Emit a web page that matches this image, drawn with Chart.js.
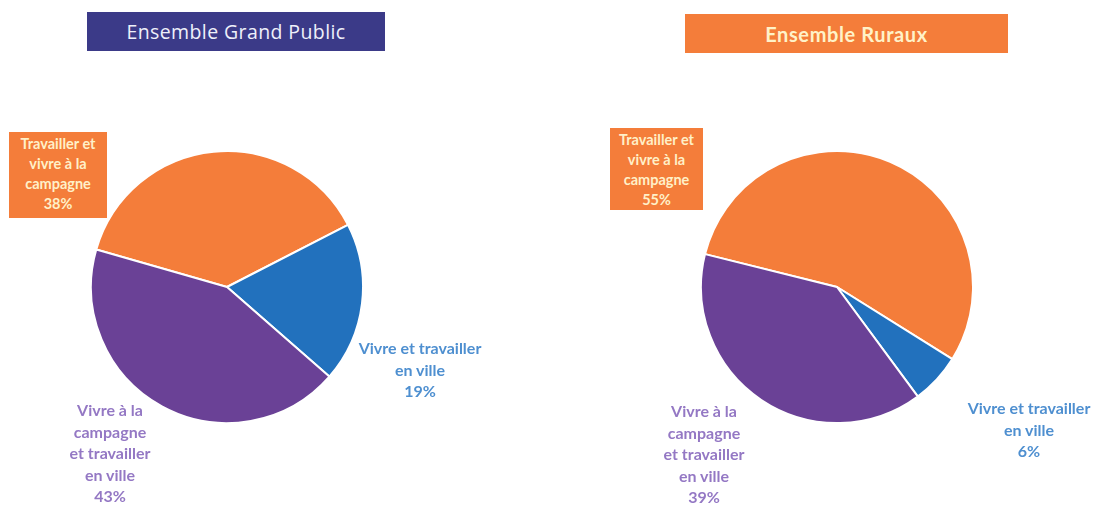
<!DOCTYPE html>
<html>
<head>
<meta charset="utf-8">
<script src="https://cdn.jsdelivr.net/npm/chart.js@4"></script>
<style>
  html,body{margin:0;padding:0;background:#fff;width:1096px;height:506px;overflow:hidden;}
  body{position:relative;font-family:Lato,"Open Sans",sans-serif;}
  canvas{position:absolute;}
  .title{position:absolute;display:flex;align-items:center;justify-content:center;box-sizing:border-box;}
  .lbl{position:absolute;text-align:center;font-weight:bold;font-size:16px;line-height:21.5px;white-space:nowrap;transform:translateX(-50%);}
  .box{position:absolute;background:#F47D3A;color:#FFF0C8;text-align:center;font-weight:bold;font-size:14.5px;line-height:20px;box-sizing:border-box;padding-top:2px;white-space:nowrap;}
</style>
</head>
<body>
<div class="title" id="t1" style="left:87px;top:12px;width:298px;height:39px;background:#3B3A88;color:#EEF0FA;font-family:'Open Sans',sans-serif;font-size:19.5px;letter-spacing:0.4px;"></div>
<div class="title" id="t2" style="left:685px;top:14px;width:323px;height:39px;background:#F47D3A;color:#FFF2C8;font-weight:bold;font-size:20px;letter-spacing:0.6px;"></div>

<canvas id="c1" width="274" height="274" style="left:90px;top:150px;"></canvas>
<canvas id="c2" width="274" height="274" style="left:700px;top:150px;"></canvas>

<div class="box" id="b1" style="left:9px;top:132px;width:98px;height:86px;"></div>
<div class="box" id="b2" style="left:610px;top:128px;width:93px;height:82px;"></div>
<div class="lbl" id="blue1" style="left:420px;top:337px;color:#4E8FD0;"></div>
<div class="lbl" id="blue2" style="left:1029px;top:397px;color:#4E8FD0;"></div>
<div class="lbl" id="pur1" style="left:110px;top:399px;color:#9478C4;"></div>
<div class="lbl" id="pur2" style="left:704px;top:400px;color:#9478C4;"></div>

<script>
// ---- data ----
const chartTitles = ["Ensemble Grand Public", "Ensemble Ruraux"];
const categories = ["Travailler et vivre à la campagne", "Vivre et travailler en ville", "Vivre à la campagne et travailler en ville"];
const labelLines = [
  ["Travailler et", "vivre à la", "campagne"],
  ["Vivre et travailler", "en ville"],
  ["Vivre à la", "campagne", "et travailler", "en ville"]
];
const grandPublicValues = [38, 19, 43];
const rurauxValues = [55, 6, 39];
const sliceColors = ["#F47D3A", "#2271BD", "#6A4196"];

function pct(v){ return v + "%"; }
function fill(id, lines){ document.getElementById(id).innerHTML = lines.join("<br>"); }

document.getElementById("t1").textContent = chartTitles[0];
document.getElementById("t2").textContent = chartTitles[1];
fill("b1", labelLines[0].concat([pct(grandPublicValues[0])]));
fill("b2", labelLines[0].concat([pct(rurauxValues[0])]));
fill("blue1", labelLines[1].concat([pct(grandPublicValues[1])]));
fill("blue2", labelLines[1].concat([pct(rurauxValues[1])]));
fill("pur1", labelLines[2].concat([pct(grandPublicValues[2])]));
fill("pur2", labelLines[2].concat([pct(rurauxValues[2])]));

function makePie(id, values, rotation){
  return new Chart(document.getElementById(id), {
    type: "pie",
    data: {
      labels: categories,
      datasets: [{
        data: values,
        backgroundColor: sliceColors,
        borderColor: "#ffffff",
        borderWidth: 2,
        hoverOffset: 0
      }]
    },
    options: {
      responsive: false,
      animation: false,
      events: [],
      rotation: rotation,
      layout: {padding: 0},
      plugins: {legend: {display: false}, tooltip: {enabled: false}, title: {display: false}}
    }
  });
}
makePie("c1", grandPublicValues, -74);
makePie("c2", rurauxValues, -76);
</script>
</body>
</html>
